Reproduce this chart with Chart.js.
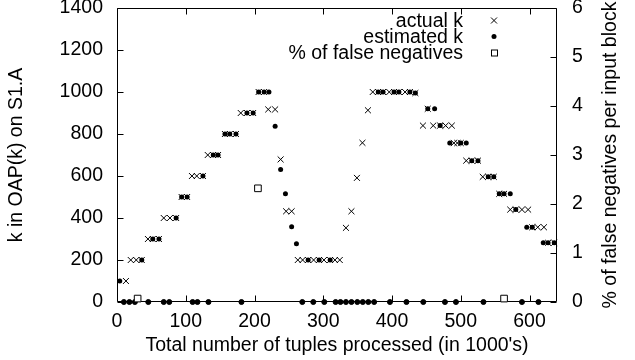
<!DOCTYPE html>
<html><head><meta charset="utf-8">
<script src="https://cdn.jsdelivr.net/npm/chart.js@4/dist/chart.umd.min.js"></script>
<style>html,body{margin:0;padding:0;background:#fff;}canvas{display:block;}</style>
</head><body>
<canvas id="c" width="635" height="360"></canvas>
<script>
// ---- data (x = tuples processed in 1000's) ----
const xTicks = [0, 100, 200, 300, 400, 500, 600];
const kTicks = [0, 200, 400, 600, 800, 1000, 1200, 1400];
const pctTicks = [0, 1, 2, 3, 4, 5, 6];

const actualK = [
  [13,100],
  [20,200],[28,200],[36,200],
  [45,300],[52,300],[61,300],
  [68,400],[77,400],[86,400],
  [94,500],[102,500],
  [109,600],[116,600],[125,600],
  [132,700],[140,700],[147,700],
  [157,800],[164,800],[173,800],
  [180,900],[189,900],[198,900],
  [206,1000],[214,1000],
  [220,917],[230,917],
  [238,679],
  [246,432],[254,432],
  [263,200],[270,200],[278,200],[286,200],[294,200],[301,200],[310,200],[317,200],[324,200],
  [333,353],[341,432],[349,591],[357,758],[365,913],
  [372,1000],[380,1000],[387,1000],[396,1000],[403,1000],[410,1000],[419,1000],[426,1000],[434,995],
  [445,840],[452,920],[460,840],[470,840],[478,840],[487,840],
  [490,757],[495,757],[500,757],
  [508,673],[516,673],[525,673],
  [532,596],[540,596],[548,596],
  [556,515],[563,515],
  [572,440],[580,440],[589,440],[598,440],
  [604,356],[612,356],[621,356],
  [627,282],[636,282]
];

const estimatedK = [
  [4,100],[36,200],[52,300],[61,300],[86,400],[94,500],[102,500],[125,600],
  [140,700],[147,700],[157,800],[164,800],[173,800],[189,900],[198,900],
  [206,1000],[214,1000],[221,1000],[230,837],[238,631],[245,515],[254,358],[261,277],
  [278,200],[294,200],[310,200],
  [380,1000],[387,1000],[403,1000],[410,1000],[426,1000],[434,995],
  [452,920],[462,920],[470,840],[484,757],[500,757],[508,757],[516,673],[525,673],
  [540,596],[548,596],[556,515],[563,515],[572,515],[580,440],[596,356],[604,356],
  [620,282],[627,282],[636,282]
];

const falseNegPct = [
  [10,0],[18,0],[26,0],[30,0.07],[45.5,0],[68,0],[76,0],[110,0],[117,0],[133,0],[181,0],
  [205,2.32],
  [269.5,0],[285.5,0],[301.5,0],[318,0],[325,0],[333,0],[341,0],[349.5,0],[357.5,0],[365.5,0],[374,0],
  [397,0],[421,0],[445.5,0],[477,0],[493,0],[533,0],[563,0.07],[589,0],[613,0]
];

const seriesNames = ['actual k', 'estimated k', '% of false negatives'];
const xTitle = "Total number of tuples processed (in 1000's)";
const yTitle = 'k in OAP(k) on S1.A';
const y2Title = '% of false negatives per input block';

// ---- rendering ----
const FAM = '"Liberation Sans", Arial, Helvetica, sans-serif';
const FS = 19.5;
const FONT = {family: FAM, size: FS};
const toXY = a => a.map(p => ({x: p[0], y: p[1]}));
const fixTicks = vals => s => { s.ticks = vals.map(v => ({value: v})); };
const plain = v => String(v);

const framePlugin = {
  id: 'frame',
  beforeDatasetsDraw(chart) {
    const {ctx, chartArea: a, scales} = chart;
    const L = Math.round(a.left) + 0.5, R = Math.round(a.right) - 0.5;
    const T = Math.round(a.top) + 0.5, B = Math.round(a.bottom) - 0.5;
    ctx.save();
    ctx.strokeStyle = '#000';
    ctx.lineWidth = 1;
    ctx.beginPath();
    ctx.rect(L, T, R - L, B - T);
    const len = 6;
    scales.x.ticks.forEach(t => {
      const px = Math.round(scales.x.getPixelForValue(t.value)) + 0.5;
      ctx.moveTo(px, B); ctx.lineTo(px, B - len);
      ctx.moveTo(px, T); ctx.lineTo(px, T + len);
    });
    scales.y.ticks.forEach(t => {
      const py = Math.round(scales.y.getPixelForValue(t.value)) + 0.5;
      ctx.moveTo(L, py); ctx.lineTo(L + len, py);
    });
    scales.y2.ticks.forEach(t => {
      const py = Math.round(scales.y2.getPixelForValue(t.value)) + 0.5;
      ctx.moveTo(R, py); ctx.lineTo(R - len, py);
    });
    ctx.stroke();
    ctx.restore();
  },
  afterDraw(chart) {
    const {ctx, chartArea: a} = chart;
    ctx.save();
    ctx.fillStyle = '#000';
    ctx.strokeStyle = '#000';
    ctx.font = FS + 'px ' + FAM;
    // right axis title (reads bottom to top)
    ctx.save();
    ctx.translate(615.5, (a.top + a.bottom) / 2);
    ctx.rotate(-Math.PI / 2);
    ctx.textAlign = 'center';
    ctx.textBaseline = 'alphabetic';
    ctx.fillText(y2Title, 0, 0);
    ctx.restore();
    // key
    const tx = 463, mx = 494;
    const base = [27, 43, 59];
    ctx.textAlign = 'right';
    ctx.textBaseline = 'alphabetic';
    seriesNames.forEach((n, i) => ctx.fillText(n, tx, base[i]));
    ctx.lineWidth = 1;
    let y = base[0] - 6.5;
    ctx.beginPath();
    ctx.moveTo(mx - 3, y - 3); ctx.lineTo(mx + 3, y + 3);
    ctx.moveTo(mx - 3, y + 3); ctx.lineTo(mx + 3, y - 3);
    ctx.stroke();
    y = base[1] - 6.5;
    ctx.beginPath(); ctx.arc(mx, y, 2.5, 0, Math.PI * 2); ctx.fill();
    y = base[2] - 6.5;
    ctx.fillStyle = '#fff';
    ctx.fillRect(mx - 3, y - 3, 6, 6);
    ctx.strokeRect(mx - 3 + 0.5, y - 3 + 0.5, 6, 6);
    ctx.restore();
  }
};

new Chart(document.getElementById('c'), {
  type: 'scatter',
  data: {
    datasets: [
      {
        label: seriesNames[2], data: toXY(falseNegPct), yAxisID: 'y2', order: 0,
        pointStyle: c => (c.raw && c.raw.y > 0) ? 'rect' : 'circle',
        pointRadius: c => (c.raw && c.raw.y > 0) ? 4.7 : 2.5,
        backgroundColor: c => (c.raw && c.raw.y > 0) ? '#fff' : '#000',
        borderColor: '#000', borderWidth: 1, clip: false
      },
      {
        label: seriesNames[0], data: toXY(actualK), yAxisID: 'y', order: 1,
        pointStyle: 'crossRot', pointRadius: 4.2, borderColor: '#000', borderWidth: 1,
        backgroundColor: '#000', clip: false
      },
      {
        label: seriesNames[1], data: toXY(estimatedK), yAxisID: 'y', order: 2,
        pointStyle: 'circle', pointRadius: 2.5, borderColor: '#000', borderWidth: 0,
        backgroundColor: '#000', clip: false
      }
    ]
  },
  options: {
    responsive: false,
    animation: false,
    devicePixelRatio: 1,
    layout: {padding: {top: 8, left: 0, right: 0, bottom: 0}},
    plugins: {legend: {display: false}, tooltip: {enabled: false}},
    scales: {
      x: {
        type: 'linear', position: 'bottom', min: 0, max: 640,
        afterBuildTicks: fixTicks(xTicks),
        ticks: {font: FONT, color: '#000', padding: 8, maxRotation: 0, autoSkip: false, callback: plain},
        grid: {display: false, drawTicks: false},
        border: {display: false},
        title: {display: true, text: xTitle, font: FONT, color: '#000', padding: {top: 0, bottom: 3}},
        afterFit: s => { s.height = 58; s.paddingLeft = 0; s.paddingRight = 0; }
      },
      y: {
        type: 'linear', position: 'left', min: 0, max: 1400,
        afterBuildTicks: fixTicks(kTicks),
        ticks: {font: FONT, color: '#000', padding: 14, autoSkip: false, callback: plain},
        grid: {display: false, drawTicks: false},
        border: {display: false},
        title: {display: true, text: yTitle, font: FONT, color: '#000', padding: {top: 5, bottom: 0}},
        afterFit: s => { s.width = 117; s.paddingTop = 0; s.paddingBottom = 0; }
      },
      y2: {
        type: 'linear', position: 'right', min: 0, max: 6,
        afterBuildTicks: fixTicks(pctTicks),
        ticks: {font: FONT, color: '#000', padding: 15, autoSkip: false, callback: plain},
        grid: {display: false, drawTicks: false},
        border: {display: false},
        title: {display: false},
        afterFit: s => { s.width = 78; s.paddingTop = 0; s.paddingBottom = 0; }
      }
    }
  },
  plugins: [framePlugin]
});
</script>
</body></html>
